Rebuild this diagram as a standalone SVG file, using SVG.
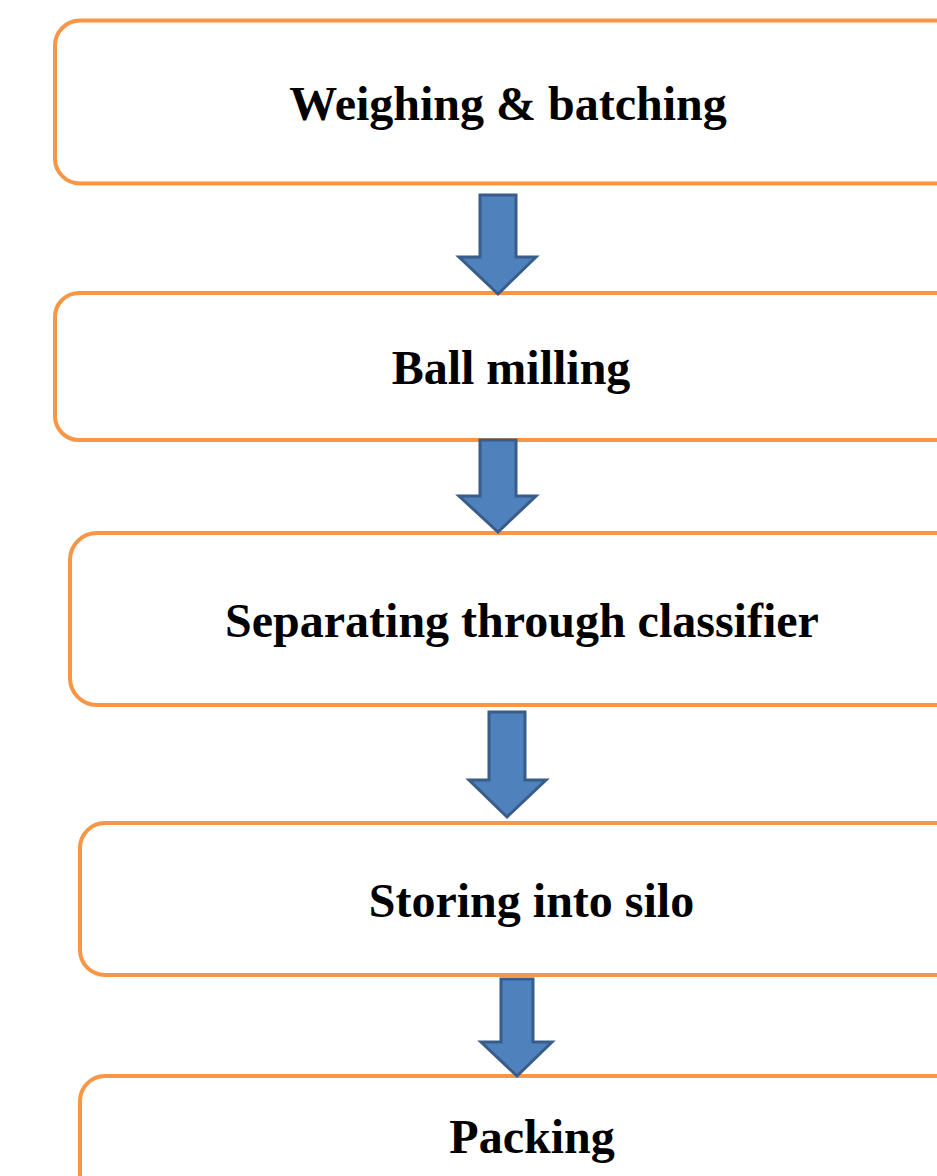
<svg xmlns="http://www.w3.org/2000/svg" width="937" height="1176" viewBox="0 0 937 1176">
<style>
.box{fill:#ffffff;stroke:#F79646;stroke-width:4}
.lbl{font-family:"Liberation Serif","Times New Roman",serif;font-weight:bold;font-size:48px;fill:#000000;text-anchor:middle}
.arr{fill:#4F81BD;stroke:#385D8A;stroke-width:3;stroke-linejoin:miter}
</style>
<rect width="937" height="1176" fill="#ffffff"/>
<g id="node-weighing">
<rect class="box" x="55" y="20.5" width="906" height="163" rx="25" ry="25"/>
<text class="lbl" x="508" y="120">Weighing &amp; batching</text>
</g>
<g id="node-ballmilling">
<rect class="box" x="55" y="293" width="906" height="147" rx="24" ry="24"/>
<text class="lbl" x="511" y="384">Ball milling</text>
</g>
<g id="node-separating">
<rect class="box" x="70" y="533" width="904" height="172" rx="27" ry="27"/>
<text class="lbl" x="522" y="637">Separating through classifier</text>
</g>
<g id="node-storing">
<rect class="box" x="80" y="823" width="904" height="152" rx="25" ry="25"/>
<text class="lbl" x="531.5" y="917">Storing into silo</text>
</g>
<g id="node-packing">
<rect class="box" x="80" y="1076" width="904" height="160" rx="25" ry="25"/>
<text class="lbl" x="532" y="1153">Packing</text>
</g>
<g id="connectors">
<path class="arr" d="M480,195 H516 V257 H536 L498,294 L459,257 H480 Z"/>
<path class="arr" d="M480,440 H516 V496 H536 L498,532 L459,496 H480 Z"/>
<path class="arr" d="M489,712 H525 V780 H546 L507,817 L469,780 H489 Z"/>
<path class="arr" d="M501,979 H533 V1042 H552 L517,1076 L481,1042 H501 Z"/>
</g>
</svg>
